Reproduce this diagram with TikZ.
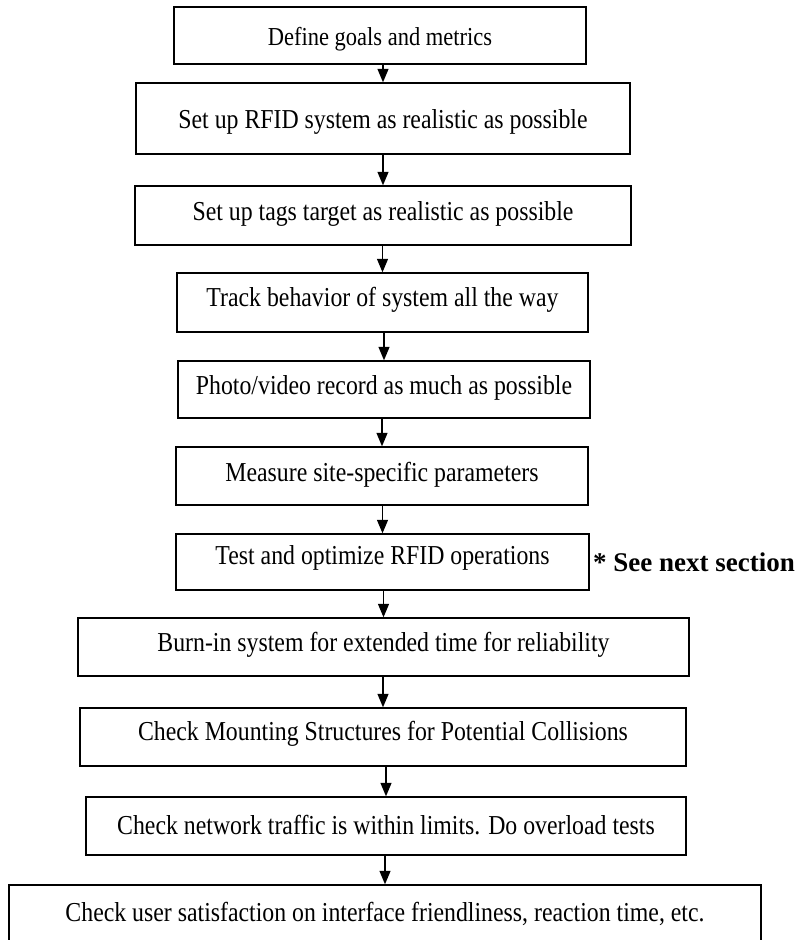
\documentclass[tikz,border=0pt]{standalone}
\usepackage{fontspec}
\usepackage{graphicx}
\setmainfont{Liberation Serif}
\usetikzlibrary{arrows.meta}
\tikzset{
  stepbox/.style={draw, line width=1.4pt, inner sep=0pt, align=center,
    font=\fontsize{23.8}{28}\selectfont},
  flow/.style={line width=1.3pt, -{Triangle[width=11pt,length=13.5pt]}},
  note/.style={font=\fontsize{27}{32}\selectfont\bfseries, inner sep=0pt, anchor=west}
}
% slightly tall lettering used in the boxes
\newcommand{\tall}[1]{\scalebox{1}[1.15]{#1}}
% box with corners given as left, right, top, bottom (y grows downward);
% the optional argument moves the text down inside the box
\newcommand{\flowbox}[7][0]{%
  \node[stepbox, minimum width={#4-#3}, minimum height={#6-#5}]
    (#2) at ({(#3+#4)/2},{(#5+#6)/2}) {\raisebox{-#1pt}[\height][\depth]{\tall{#7}}};}
\begin{document}
\begin{tikzpicture}[x=1pt,y=-1pt]
\useasboundingbox (0,0) rectangle (802,940);
\clip (0,0) rectangle (802,940);
\flowbox[4]{b1}{174}{586}{7}{64}{\fontsize{22.5}{27}\selectfont Define goals and metrics}
\flowbox[3]{b2}{136}{630}{83}{154}{Set up RFID system as realistic as possible}
\flowbox[-2]{b3}{135}{631}{186}{245}{Set up tags target as realistic as possible}
\flowbox[-3]{b4}{177}{588}{273}{332}{Track behavior of system all the way}
\flowbox[-2]{b5}{178}{590}{361}{418}{Photo/video record as much as possible}
\flowbox[-1]{b6}{176}{588}{447}{505}{Measure site-specific parameters}
\flowbox[-4]{b7}{176}{589}{534}{590}{Test and optimize RFID operations}
\flowbox[-2]{b8}{78}{689}{618}{676}{Burn-in system for extended time for reliability}
\flowbox[-3]{b9}{80}{686}{708}{766}{Check Mounting Structures for Potential Collisions}
\flowbox[-1]{b10}{86}{686}{797}{855}{Check network traffic is within limits. Do overload tests}
\flowbox[0]{b11}{9}{761}{885}{943}{Check user satisfaction on interface friendliness, reaction time, etc.}
\node[note] (see) at (593,562) {* See next section};
\foreach \a/\b in {b1/b2,b2/b3,b3/b4,b4/b5,b5/b6,b6/b7,b7/b8,b8/b9,b9/b10,b10/b11}
  \draw[flow] (\a.south -| \b.north) -- (\b.north);
\end{tikzpicture}
\end{document}
